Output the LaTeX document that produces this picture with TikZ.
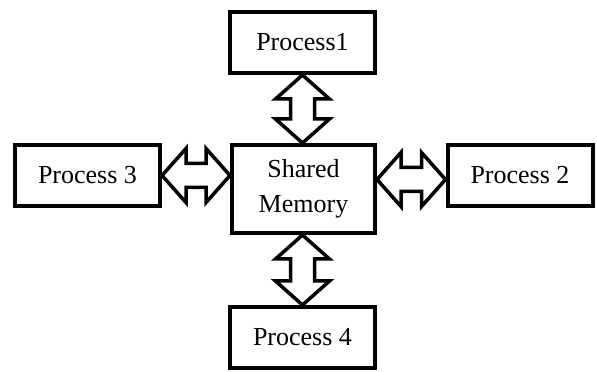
\documentclass[tikz,border=0pt]{standalone}
\usepackage{fontspec}
\setmainfont{Liberation Serif}
\usetikzlibrary{calc}
\usetikzlibrary{positioning}

\newcommand{\twoway}[2]{%
  \draw [flow] (#1)
    -- ($(#1)!24pt!(#2)!27pt!90:(#2)$)
    -- ($(#1)!24pt!(#2)!12pt!90:(#2)$)
    -- ($(#2)!24pt!(#1)!12pt!-90:(#1)$)
    -- ($(#2)!24pt!(#1)!27pt!-90:(#1)$)
    -- (#2)
    -- ($(#2)!24pt!(#1)!27pt!90:(#1)$)
    -- ($(#2)!24pt!(#1)!12pt!90:(#1)$)
    -- ($(#1)!24pt!(#2)!12pt!-90:(#2)$)
    -- ($(#1)!24pt!(#2)!27pt!-90:(#2)$)
    -- cycle;
}

\begin{document}
\begin{tikzpicture}[x=1pt, y=1pt,
  box/.style={draw, line width=4pt, fill=white, inner sep=0pt,
    minimum width=145pt, minimum height=61pt,
    font=\fontsize{26}{35}\selectfont},
  flow/.style={line width=3.5pt}]
  \useasboundingbox (0,0) rectangle (597,372);

  \node [box, minimum width=143pt, minimum height=88pt, align=center]
    (shm) at (303.5,183) {Shared\\Memory};
  \node [box] (p1) at (302.5,329.5) {Process1};
  \node [box] (p2) at (520,196.5) {Process 2};
  \node [box] (p3) at (87.5,196.5) {Process 3};
  \node [box] (p4) at (302.5,34.5) {Process 4};

  \coordinate (t1) at (p1.south |- shm.north);
  \coordinate (l3) at (p3.east -| shm.west);
  \coordinate (r2) at ([yshift=-4pt]p2.west);
  \coordinate (r1) at (shm.east |- r2);
  \coordinate (b4) at (p4.north |- shm.south);

  \twoway{p1.south}{t1}
  \twoway{p3.east}{l3}
  \twoway{r1}{r2}
  \twoway{b4}{p4.north}
\end{tikzpicture}
\end{document}
